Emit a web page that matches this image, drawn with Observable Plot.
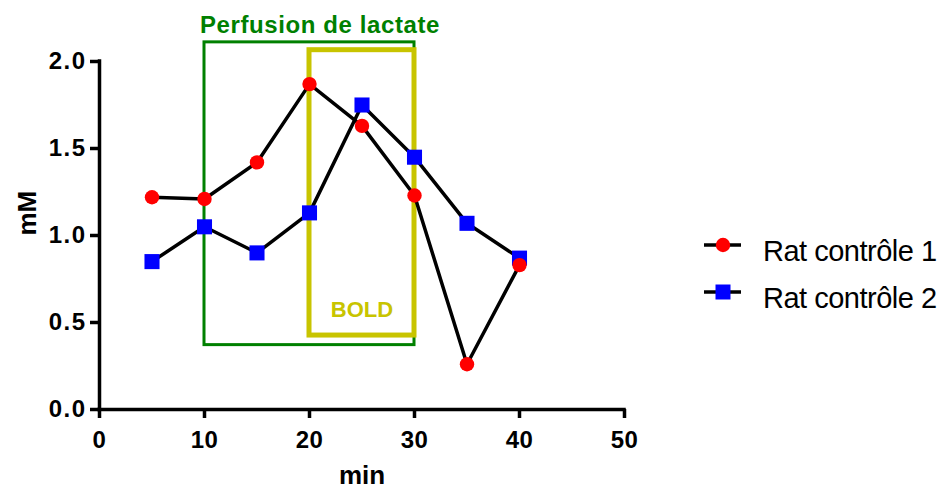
<!DOCTYPE html>
<html><head><meta charset="utf-8">
<script src="https://cdn.jsdelivr.net/npm/d3@7"></script>
<script src="https://cdn.jsdelivr.net/npm/@observablehq/plot@0.6"></script>
<style>
body{margin:0;background:#fff;}
#chart{position:relative;width:942px;height:490px;font-family:"Liberation Sans",Arial,sans-serif;}
#legend{position:absolute;left:0;top:0;}
</style></head><body><div id="chart"></div>
<script>
// data
const times = [5, 10, 15, 20, 25, 30, 35, 40];
const rat1 = [1.22, 1.21, 1.42, 1.87, 1.63, 1.23, 0.26, 0.83];
const rat2 = [0.85, 1.05, 0.90, 1.13, 1.75, 1.45, 1.07, 0.87];
const seriesNames = ["Rat contrôle 1", "Rat contrôle 2"];
const xTicks = [0, 10, 20, 30, 40, 50];
const yTicks = [0, 0.5, 1.0, 1.5, 2.0];
const xLabel = "min";
const yLabel = "mM";
// annotation boxes (in data units)
const boxLabels = ["Perfusion de lactate", "BOLD"];
const boxX1 = [10, 20];
const boxX2 = [30, 30];
const boxY1 = [0.37, 0.425];
const boxY2 = [2.11, 2.065];
const boxLabelX = [21, 25];
const boxLabelY = [2.21, 0.57];

const boxes = boxLabels.map((label, i) => ({label, x1: boxX1[i], x2: boxX2[i], y1: boxY1[i], y2: boxY2[i], lx: boxLabelX[i], ly: boxLabelY[i]}));
const d1 = times.map((t, i) => ({t, v: rat1[i], s: seriesNames[0]}));
const d2 = times.map((t, i) => ({t, v: rat2[i], s: seriesNames[1]}));

const GREEN = "#008000", OLIVE = "#c8c400";
const bold = {fontWeight: "bold"};

const chart = Plot.plot({
  width: 942, height: 490,
  marginLeft: 99, marginRight: 318, marginTop: 61, marginBottom: 81,
  style: {fontFamily: "'Liberation Sans', Arial, sans-serif", background: "white", overflow: "visible", color: "black"},
  x: {domain: [0, 50]},
  y: {domain: [0, 2]},
  marks: [
    Plot.rect([boxes[0]], {x1: "x1", x2: "x2", y1: "y1", y2: "y2", fill: "none", stroke: GREEN, strokeWidth: 3}),
    Plot.rect([boxes[1]], {x1: "x1", x2: "x2", y1: "y1", y2: "y2", fill: "none", stroke: OLIVE, strokeWidth: 5}),
    Plot.text([boxes[0]], {x: "lx", y: "ly", text: "label", fill: GREEN, fontSize: 24, ...bold}),
    Plot.text([boxes[1]], {x: "lx", y: "ly", text: "label", fill: OLIVE, fontSize: 22, ...bold}),
    Plot.ruleY([0], {strokeWidth: 3.5, strokeLinecap: "square"}),
    Plot.ruleX([0], {strokeWidth: 3.5, strokeLinecap: "square"}),
    Plot.axisX({ticks: xTicks, tickSize: 9, tickPadding: 12, strokeWidth: 3.5, fontSize: 24, ...bold, label: null}),
    Plot.axisY({ticks: yTicks, tickFormat: d3.format(".1f"), tickSize: 9, tickPadding: 4, strokeWidth: 3.5, fontSize: 24, ...bold, label: null}),
    Plot.text([xLabel], {frameAnchor: "bottom", dy: 66, fontSize: 26, ...bold, lineAnchor: "middle"}),
    Plot.text([yLabel], {frameAnchor: "left", dx: -72, rotate: -90, fontSize: 26, ...bold, lineAnchor: "middle"}),
    Plot.line(d2, {x: "t", y: "v", stroke: "black", strokeWidth: 3.5}),
    Plot.dot(d2, {x: "t", y: "v", symbol: "square", r: 8.5, fill: "#0000ff"}),
    Plot.line(d1, {x: "t", y: "v", stroke: "black", strokeWidth: 3.5}),
    Plot.dot(d1, {x: "t", y: "v", symbol: "circle", r: 7.2, fill: "#ff0000"})
  ]
});
document.getElementById("chart").appendChild(chart);
// widen bold labels slightly, as in the original rendering
d3.select(chart).selectAll("text").each(function() {
  const t = this.textContent;
  if (/^\d\.\d$/.test(t)) this.setAttribute("letter-spacing", "1.5");
  else if (/^\d+$/.test(t)) this.setAttribute("letter-spacing", "0.5");
  else if (t === boxLabels[0]) this.setAttribute("letter-spacing", "0.6");
});

// legend
const legColors = ["#ff0000", "#0000ff"];
const legSymbols = [d3.symbolCircle, d3.symbolSquare];
const legSizes = [163, 225];
const leg = d3.select("#chart").append("svg").attr("id", "legend").attr("width", 942).attr("height", 490);
seriesNames.forEach((name, i) => {
  const g = leg.append("g").attr("transform", `translate(704,${245 + i * 47})`);
  g.append("line").attr("x1", 0).attr("x2", 37).attr("y1", 0).attr("y2", 0).attr("stroke", "black").attr("stroke-width", 3.5);
  g.append("path").attr("transform", "translate(19,0)").attr("d", d3.symbol(legSymbols[i], legSizes[i])()).attr("fill", legColors[i]);
  g.append("text").attr("x", 59).attr("y", 16).attr("font-size", 29).attr("letter-spacing", "-0.5")
    .attr("font-family", "'Liberation Sans', Arial, sans-serif").attr("fill", "black").text(name);
});
</script></body></html>
